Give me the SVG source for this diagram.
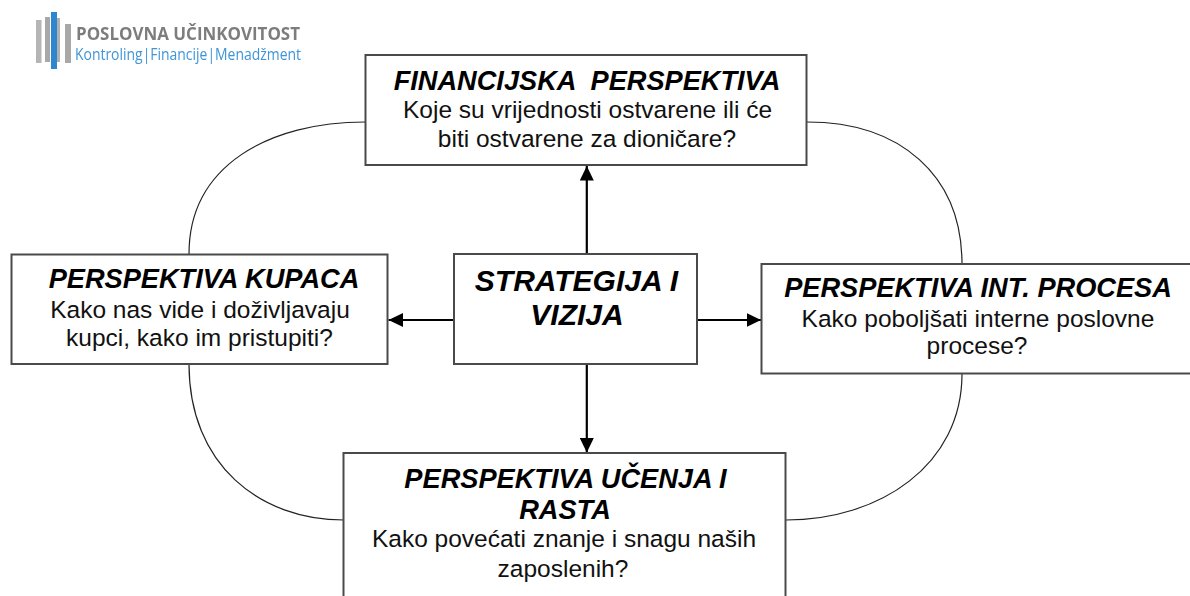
<svg xmlns="http://www.w3.org/2000/svg" width="1190" height="596" viewBox="0 0 1190 596">
<style>
text{font-family:"Liberation Sans",Arial,sans-serif;fill:#111;text-anchor:middle;font-size:24.5px}
.t{font-weight:bold;font-style:italic;font-size:27.2px;fill:#000}
.s{font-size:30px}
.box{fill:#fff;stroke:#4a4a4a;stroke-width:2}
.arc{fill:none;stroke:#222;stroke-width:1.2}
.ar{fill:none;stroke:#000;stroke-width:2.2}
.logo1{font-family:"Open Sans","Noto Sans",sans-serif;font-size:18px;font-weight:700;fill:#7d7d7d;text-anchor:start}
.logo2{font-family:"Open Sans","Noto Sans",sans-serif;font-size:16px;fill:#3f95d8;text-anchor:start}
</style>
<defs>
<marker id="a" markerUnits="userSpaceOnUse" markerWidth="15" markerHeight="14" refX="14.5" refY="7" orient="auto"><path d="M0 0L14.5 7L0 14Z" fill="#000"/></marker>
<filter id="b" x="-5%" y="-5%" width="110%" height="110%"><feGaussianBlur stdDeviation="0.55"/></filter>
</defs>
<rect width="1190" height="596" fill="#fff"/>
<g id="logo" filter="url(#b)">
<rect x="36" y="20" width="5.5" height="43" fill="#b5b5b5"/>
<rect x="45" y="17" width="5" height="45" fill="#a8a8a8"/>
<rect x="51" y="12" width="6" height="57" fill="#2f86cf"/>
<rect x="57" y="18" width="3" height="44" fill="#b0b0b0"/>
<rect x="65" y="24" width="6" height="39" fill="#a8a8a8"/>
<text class="logo1" x="76" y="40" textLength="224" lengthAdjust="spacingAndGlyphs">POSLOVNA UČINKOVITOST</text>
<text class="logo2" x="75" y="60" textLength="226" lengthAdjust="spacingAndGlyphs">Kontroling|Financije|Menadžment</text>
</g>
<g id="connectors">
<path class="arc" d="M365 122C270 122 189 165 189 254"/>
<path class="arc" d="M807 122C900 122 962 175 962 264"/>
<path class="arc" d="M189 364C189 465 260 520 344 520"/>
<path class="arc" d="M962 374C962 465 880 520 786 520"/>
<path class="ar" d="M586.8 254V166" marker-end="url(#a)"/>
<path class="ar" d="M586.8 364V452.5" marker-end="url(#a)"/>
<path class="ar" d="M454 320H388.5" marker-end="url(#a)"/>
<path class="ar" d="M697 320H761" marker-end="url(#a)"/>
</g>
<g id="financijska"><rect class="box" x="365.5" y="55" width="441" height="110"/>
<text class="t" x="587" y="90" xml:space="preserve">FINANCIJSKA  PERSPEKTIVA</text>
<text x="587.5" y="118">Koje su vrijednosti ostvarene ili će</text>
<text x="587" y="147">biti ostvarene za dioničare?</text></g>
<g id="kupci"><rect class="box" x="11.5" y="254.5" width="376" height="109.500"/>
<text class="t" x="204" y="288">PERSPEKTIVA KUPACA</text>
<text x="200" y="318">Kako nas vide i doživljavaju</text>
<text x="199.500" y="346">kupci, kako im pristupiti?</text></g>
<g id="strategija"><rect class="box" x="454" y="254" width="243" height="110"/>
<text class="t s" x="576.500" y="291">STRATEGIJA I</text>
<text class="t s" x="577" y="325">VIZIJA</text></g>
<g id="procesi"><rect class="box" x="761.500" y="264" width="440" height="109.500"/>
<text class="t" x="978" y="297">PERSPEKTIVA INT. PROCESA</text>
<text x="978" y="327">Kako poboljšati interne poslovne</text>
<text x="977" y="354">procese?</text></g>
<g id="ucenje"><rect class="box" x="343.500" y="453" width="442" height="160"/>
<text class="t" x="565.500" y="488">PERSPEKTIVA UČENJA I</text>
<text class="t" x="565" y="519">RASTA</text>
<text x="564" y="547">Kako povećati znanje i snagu naših</text>
<text x="563" y="577">zaposlenih?</text></g>
</svg>
